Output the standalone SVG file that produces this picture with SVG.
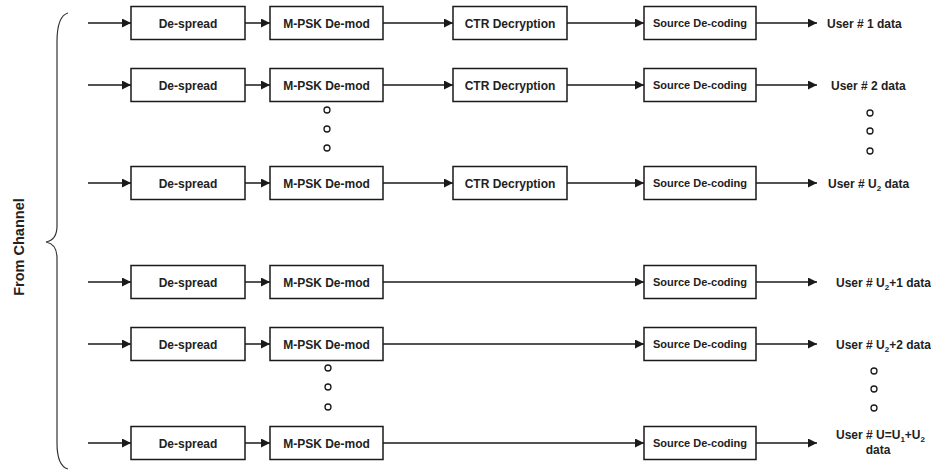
<svg xmlns="http://www.w3.org/2000/svg" width="931" height="471" viewBox="0 0 931 471">
  <style>
    .box { fill: #ffffff; stroke: #1a1a1a; stroke-width: 1.5; }
    .lbl { font-family: "Liberation Sans", Arial, sans-serif; font-weight: bold; font-size: 12px; fill: #222; text-anchor: middle; }
    .src { font-size: 11px; }
    .out { font-family: "Liberation Sans", Arial, sans-serif; font-weight: bold; font-size: 12px; fill: #222; }
    .side { font-family: "Liberation Sans", Arial, sans-serif; font-weight: bold; font-size: 14.5px; fill: #222; text-anchor: middle; }
    .sub { font-size: 8px; }
    .wire { fill: none; stroke: #1a1a1a; stroke-width: 1.5; marker-end: url(#arrow); }
    .dot { fill: none; stroke: #1a1a1a; stroke-width: 1.3; }
  </style>
  <defs>
    <marker id="arrow" viewBox="0 0 10 10" refX="10" refY="5" markerWidth="9" markerHeight="9" markerUnits="userSpaceOnUse" orient="auto">
      <path d="M0,0 L10,5 L0,10 Z" fill="#1a1a1a"/>
    </marker>
  </defs>
  <rect width="931" height="471" fill="#ffffff"/>

  <!-- input brace and label -->
  <g id="from-channel">
    <path d="M68,13 Q57,16 57,42 L57,226 Q57,240 46,242 Q57,244 57,258 L57,443 Q57,466 68,469" fill="none" stroke="#333" stroke-width="1.2"/>
    <text class="side" transform="translate(23.5,247) rotate(-90)">From Channel</text>
  </g>

  <!-- connectors -->
  <g id="connectors">
    <!-- row 1 -->
    <line class="wire" x1="88" y1="23" x2="131" y2="23"/>
    <line class="wire" x1="245" y1="23" x2="270" y2="23"/>
    <line class="wire" x1="383" y1="23" x2="453" y2="23"/>
    <line class="wire" x1="567" y1="23" x2="644" y2="23"/>
    <line class="wire" x1="756" y1="23" x2="817" y2="23"/>
    <!-- row 2 -->
    <line class="wire" x1="88" y1="85" x2="131" y2="85"/>
    <line class="wire" x1="245" y1="85" x2="270" y2="85"/>
    <line class="wire" x1="383" y1="85" x2="453" y2="85"/>
    <line class="wire" x1="567" y1="85" x2="644" y2="85"/>
    <line class="wire" x1="756" y1="85" x2="817" y2="85"/>
    <!-- row 3 -->
    <line class="wire" x1="88" y1="183" x2="131" y2="183"/>
    <line class="wire" x1="245" y1="183" x2="270" y2="183"/>
    <line class="wire" x1="383" y1="183" x2="453" y2="183"/>
    <line class="wire" x1="567" y1="183" x2="644" y2="183"/>
    <line class="wire" x1="756" y1="183" x2="817" y2="183"/>
    <!-- row 4 -->
    <line class="wire" x1="88" y1="282" x2="131" y2="282"/>
    <line class="wire" x1="245" y1="282" x2="270" y2="282"/>
    <line class="wire" x1="383" y1="282" x2="644" y2="282"/>
    <line class="wire" x1="756" y1="282" x2="817" y2="282"/>
    <!-- row 5 -->
    <line class="wire" x1="88" y1="344" x2="131" y2="344"/>
    <line class="wire" x1="245" y1="344" x2="270" y2="344"/>
    <line class="wire" x1="383" y1="344" x2="644" y2="344"/>
    <line class="wire" x1="756" y1="344" x2="817" y2="344"/>
    <!-- row 6 -->
    <line class="wire" x1="88" y1="443" x2="131" y2="443"/>
    <line class="wire" x1="245" y1="443" x2="270" y2="443"/>
    <line class="wire" x1="383" y1="443" x2="644" y2="443"/>
    <line class="wire" x1="756" y1="443" x2="817" y2="443"/>
  </g>

  <!-- row 1 -->
  <g id="despread-1"><rect class="box" x="131" y="6.5" width="114" height="33"/><text class="lbl" x="188" y="27.5">De-spread</text></g>
  <g id="demod-1"><rect class="box" x="270" y="6.5" width="113" height="33"/><text class="lbl" x="326.5" y="27.5">M-PSK De-mod</text></g>
  <g id="ctr-1"><rect class="box" x="453" y="6.5" width="114" height="33"/><text class="lbl" x="510" y="27.5">CTR Decryption</text></g>
  <g id="source-1"><rect class="box" x="644" y="6.5" width="112" height="33"/><text class="lbl src" x="700" y="27">Source De-coding</text></g>
  <g id="out-1"><text class="out" x="827" y="27.5">User # 1 data</text></g>

  <!-- row 2 -->
  <g id="despread-2"><rect class="box" x="131" y="68.5" width="114" height="33"/><text class="lbl" x="188" y="89.5">De-spread</text></g>
  <g id="demod-2"><rect class="box" x="270" y="68.5" width="113" height="33"/><text class="lbl" x="326.5" y="89.5">M-PSK De-mod</text></g>
  <g id="ctr-2"><rect class="box" x="453" y="68.5" width="114" height="33"/><text class="lbl" x="510" y="89.5">CTR Decryption</text></g>
  <g id="source-2"><rect class="box" x="644" y="68.5" width="112" height="33"/><text class="lbl src" x="700" y="89">Source De-coding</text></g>
  <g id="out-2"><text class="out" x="831" y="89.5">User # 2 data</text></g>

  <!-- ellipsis between rows 2 and 3 -->
  <g id="ellipsis-upper">
    <circle class="dot" cx="327" cy="110" r="3"/>
    <circle class="dot" cx="327" cy="129" r="3"/>
    <circle class="dot" cx="327" cy="148" r="3"/>
    <circle class="dot" cx="870" cy="113" r="3"/>
    <circle class="dot" cx="870" cy="131" r="3"/>
    <circle class="dot" cx="870" cy="151" r="3"/>
  </g>

  <!-- row 3 -->
  <g id="despread-3"><rect class="box" x="131" y="166.5" width="114" height="33"/><text class="lbl" x="188" y="187.5">De-spread</text></g>
  <g id="demod-3"><rect class="box" x="270" y="166.5" width="113" height="33"/><text class="lbl" x="326.5" y="187.5">M-PSK De-mod</text></g>
  <g id="ctr-3"><rect class="box" x="453" y="166.5" width="114" height="33"/><text class="lbl" x="510" y="187.5">CTR Decryption</text></g>
  <g id="source-3"><rect class="box" x="644" y="166.5" width="112" height="33"/><text class="lbl src" x="700" y="187">Source De-coding</text></g>
  <g id="out-3"><text class="out" x="828" y="187.5">User # U<tspan class="sub" dy="3">2</tspan><tspan dy="-3"> data</tspan></text></g>

  <!-- row 4 -->
  <g id="despread-4"><rect class="box" x="131" y="265.5" width="114" height="33"/><text class="lbl" x="188" y="286.5">De-spread</text></g>
  <g id="demod-4"><rect class="box" x="270" y="265.5" width="113" height="33"/><text class="lbl" x="326.5" y="286.5">M-PSK De-mod</text></g>
  <g id="source-4"><rect class="box" x="644" y="265.5" width="112" height="33"/><text class="lbl src" x="700" y="286">Source De-coding</text></g>
  <g id="out-4"><text class="out" x="836" y="286.5">User # U<tspan class="sub" dy="3">2</tspan><tspan dy="-3">+1 data</tspan></text></g>

  <!-- row 5 -->
  <g id="despread-5"><rect class="box" x="131" y="327.5" width="114" height="33"/><text class="lbl" x="188" y="348.5">De-spread</text></g>
  <g id="demod-5"><rect class="box" x="270" y="327.5" width="113" height="33"/><text class="lbl" x="326.5" y="348.5">M-PSK De-mod</text></g>
  <g id="source-5"><rect class="box" x="644" y="327.5" width="112" height="33"/><text class="lbl src" x="700" y="348">Source De-coding</text></g>
  <g id="out-5"><text class="out" x="836" y="348.5">User # U<tspan class="sub" dy="3">2</tspan><tspan dy="-3">+2 data</tspan></text></g>

  <!-- ellipsis between rows 5 and 6 -->
  <g id="ellipsis-lower">
    <circle class="dot" cx="328" cy="368" r="3"/>
    <circle class="dot" cx="328" cy="387" r="3"/>
    <circle class="dot" cx="328" cy="407" r="3"/>
    <circle class="dot" cx="874" cy="371" r="3"/>
    <circle class="dot" cx="874" cy="389" r="3"/>
    <circle class="dot" cx="874" cy="408" r="3"/>
  </g>

  <!-- row 6 -->
  <g id="despread-6"><rect class="box" x="131" y="426.5" width="114" height="33"/><text class="lbl" x="188" y="447.5">De-spread</text></g>
  <g id="demod-6"><rect class="box" x="270" y="426.5" width="113" height="33"/><text class="lbl" x="326.5" y="447.5">M-PSK De-mod</text></g>
  <g id="source-6"><rect class="box" x="644" y="426.5" width="112" height="33"/><text class="lbl src" x="700" y="447">Source De-coding</text></g>
  <g id="out-6">
    <text class="out" x="836" y="439">User # U=U<tspan class="sub" dy="3">1</tspan><tspan dy="-3">+U</tspan><tspan class="sub" dy="3">2</tspan></text>
    <text class="out" x="878" y="454" text-anchor="middle">data</text>
  </g>
</svg>
